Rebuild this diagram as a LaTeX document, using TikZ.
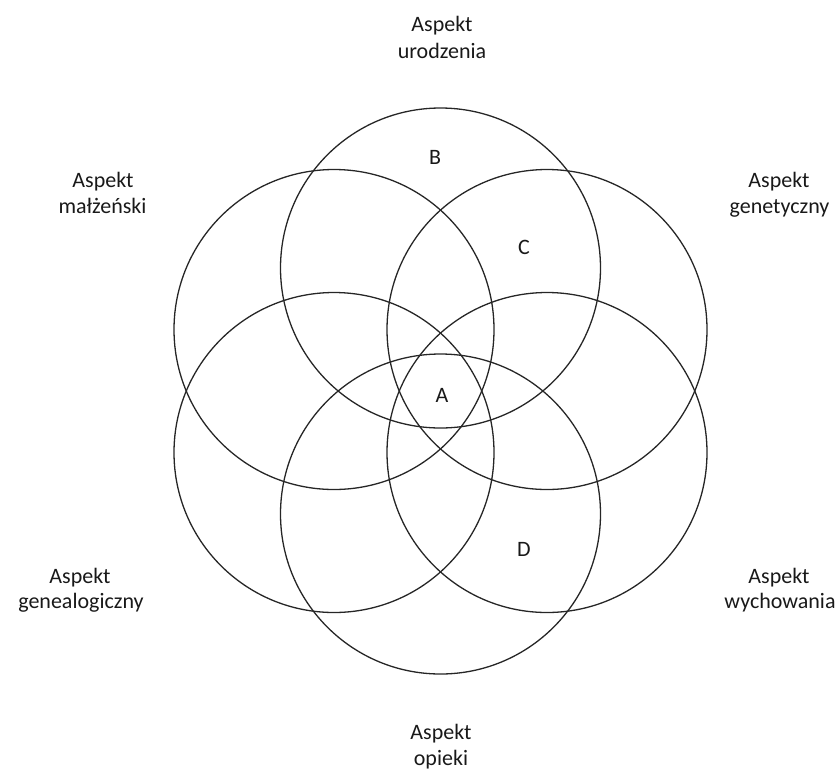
\documentclass[tikz,border=0pt]{standalone}
\usepackage{fontspec}
\setmainfont{Carlito}
\begin{document}
\begin{tikzpicture}[x=1pt,y=-1pt,
  ring/.style={draw=black!85, line width=1.3pt},
  lbl/.style={inner sep=0pt, anchor=base, font=\fontsize{22}{27}\selectfont, text=black!90},
  regionmark/.style={inner sep=0pt, font=\fontsize{22}{27}\selectfont, text=black!90}]
  \useasboundingbox (0,0) rectangle (840,772);
  % centres of the six rings, on a hexagon around the middle
  \coordinate (cU)  at (440.5,268);
  \coordinate (cUR) at (547,329.5);
  \coordinate (cDR) at (547,452.5);
  \coordinate (cD)  at (440.5,514);
  \coordinate (cDL) at (334,452.5);
  \coordinate (cUL) at (334,329.5);
  \foreach \c in {cU,cUR,cDR,cD,cDL,cUL}
    \draw[ring] (\c) circle (160);
  % region letters
  \node[regionmark] (rA) at (442,395) {A};
  \node[regionmark] (rB) at (435,157) {B};
  \node[regionmark] (rC) at (524,247) {C};
  \node[regionmark] (rD) at (524,549) {D};
  % aspect labels
  \node[lbl] (u1) at (442,31) {Aspekt};
  \node[lbl] (u2) at (442,58) {urodzenia};
  \node[lbl] (g1) at (779,187) {Aspekt};
  \node[lbl] (g2) at (779.5,213) {genetyczny};
  \node[lbl] (w1) at (779,583) {Aspekt};
  \node[lbl] (w2) at (780,608) {wychowania};
  \node[lbl] (o1) at (441,739) {Aspekt};
  \node[lbl] (o2) at (441,765) {opieki};
  \node[lbl] (n1) at (80,583) {Aspekt};
  \node[lbl] (n2) at (81,608) {genealogiczny};
  \node[lbl] (m1) at (103,187) {Aspekt};
  \node[lbl] (m2) at (102.5,213) {małżeński};
\end{tikzpicture}
\end{document}
